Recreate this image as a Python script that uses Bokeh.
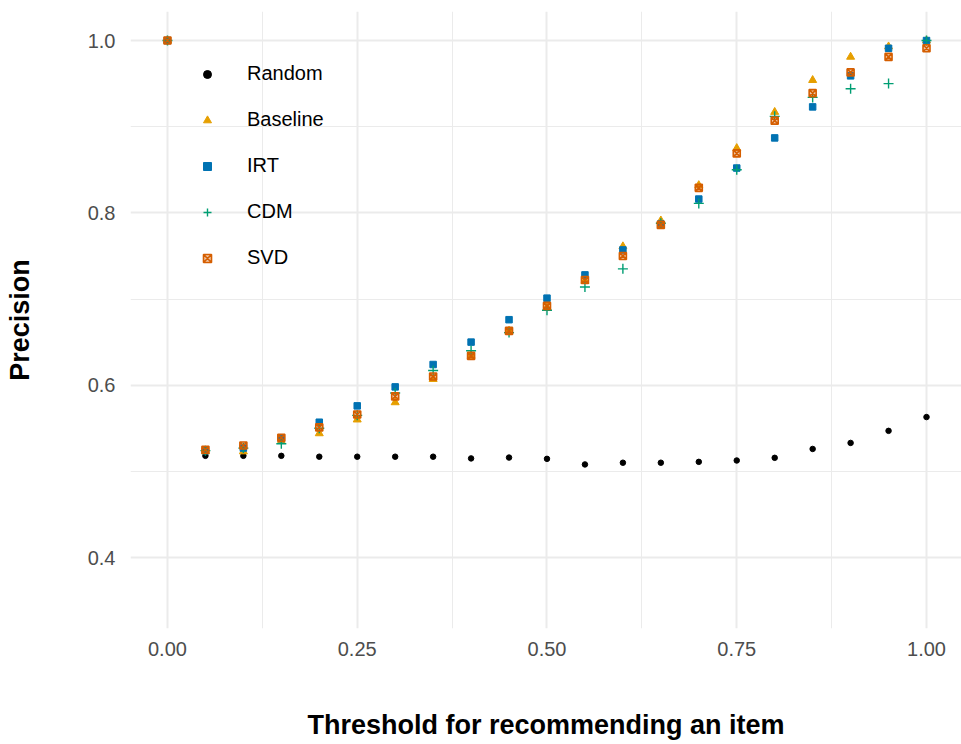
from bokeh.plotting import figure
from bokeh.models import (FixedTicker, NumeralTickFormatter, Legend, LegendItem,
                          Range1d, ColumnDataSource)
from bokeh.embed import file_html
from bokeh.resources import INLINE

# Threshold values and precision per method
thresholds = [0.00, 0.05, 0.10, 0.15, 0.20, 0.25, 0.30, 0.35, 0.40, 0.45, 0.50,
              0.55, 0.60, 0.65, 0.70, 0.75, 0.80, 0.85, 0.90, 0.95, 1.00]
random_prec = [1.000, 0.518, 0.518, 0.518, 0.517, 0.517, 0.517, 0.517, 0.515, 0.516, 0.5145,
               0.508, 0.510, 0.510, 0.511, 0.5126, 0.5157, 0.526, 0.533, 0.547, 0.563]
baseline_prec = [1.000, 0.523, 0.523, 0.535, 0.544, 0.560, 0.580, 0.607, 0.634, 0.663, 0.690,
                 0.721, 0.761, 0.791, 0.832, 0.875, 0.917, 0.954, 0.981, 0.993, 1.000]
irt_prec = [1.000, 0.524, 0.527, 0.538, 0.557, 0.576, 0.598, 0.624, 0.650, 0.676, 0.701,
            0.728, 0.757, 0.787, 0.816, 0.852, 0.887, 0.923, 0.959, 0.991, 1.000]
cdm_prec = [1.000, 0.524, 0.527, 0.532, 0.550, 0.565, 0.591, 0.617, 0.640, 0.661, 0.687,
            0.714, 0.735, 0.788, 0.811, 0.850, 0.912, 0.934, 0.944, 0.950, 1.000]
svd_prec = [1.000, 0.525, 0.530, 0.539, 0.551, 0.566, 0.587, 0.610, 0.634, 0.663, 0.692,
            0.722, 0.750, 0.786, 0.829, 0.869, 0.907, 0.939, 0.963, 0.981, 0.991]

x_ticks = [0.0, 0.25, 0.5, 0.75, 1.0]
x_minor = [0.125, 0.375, 0.625, 0.875]
y_ticks = [0.4, 0.6, 0.8, 1.0]
y_minor = [0.5, 0.7, 0.9]

FONT = "Liberation Sans"

p = figure(width=961, height=744, output_backend="svg", toolbar_location=None,
           x_range=Range1d(-0.0487, 1.0461), y_range=Range1d(0.3176, 1.0337),
           min_border_left=130, min_border_right=0, min_border_top=11,
           min_border_bottom=116)
p.outline_line_color = None
p.background_fill_color = "white"
p.border_fill_color = "white"

# axes
p.xaxis.ticker = FixedTicker(ticks=x_ticks, minor_ticks=x_minor)
p.yaxis.ticker = FixedTicker(ticks=y_ticks, minor_ticks=y_minor)
p.xaxis.formatter = NumeralTickFormatter(format="0.00")
p.yaxis.formatter = NumeralTickFormatter(format="0.0")
for ax in (p.xaxis[0], p.yaxis[0]):
    ax.axis_line_color = None
    ax.major_tick_line_color = None
    ax.minor_tick_line_color = None
    ax.major_label_text_font = FONT
    ax.major_label_text_font_size = "20px"
    ax.major_label_text_color = "#4D4D4D"
    ax.axis_label_text_font = FONT
    ax.axis_label_text_font_size = "27px"
    ax.axis_label_text_font_style = "bold"
    ax.axis_label_text_color = "black"
p.xaxis.axis_label = "Threshold for recommending an item"
p.yaxis.axis_label = "Precision"
p.xaxis.major_label_standoff = 7
p.xaxis.axis_label_standoff = 51
p.yaxis.major_label_standoff = 9
p.yaxis.axis_label_standoff = 50

# grid
for g in (p.xgrid[0], p.ygrid[0]):
    g.grid_line_color = "#EBEBEB"
    g.grid_line_width = 2
    g.minor_grid_line_color = "#EBEBEB"
    g.minor_grid_line_width = 1

src = ColumnDataSource(dict(x=thresholds, r=random_prec, b=baseline_prec,
                            i=irt_prec, c=cdm_prec, s=svd_prec))

r_rand = p.scatter("x", "r", source=src, marker="circle", size=5.5,
                   fill_color="black", line_color="black")
r_base = p.scatter("x", "b", source=src, marker="triangle", size=8,
                   fill_color="#E69F00", line_color="#E69F00")
r_irt = p.scatter("x", "i", source=src, marker="square", size=6.5,
                  fill_color="#0072B2", line_color="#0072B2")
r_cdm = p.scatter("x", "c", source=src, marker="cross", size=10,
                  line_color="#009E73", line_width=1.4)
r_svd = p.scatter("x", "s", source=src, marker="square_x", size=7,
                  fill_color="#D55E00", fill_alpha=0.35,
                  line_color="#D55E00", line_width=1.6)

legend = Legend(items=[
    LegendItem(label="Random", renderers=[r_rand]),
    LegendItem(label="Baseline", renderers=[r_base]),
    LegendItem(label="IRT", renderers=[r_irt]),
    LegendItem(label="CDM", renderers=[r_cdm]),
    LegendItem(label="SVD", renderers=[r_svd]),
], location=(67, 359))
legend.border_line_color = None
legend.background_fill_alpha = 0
legend.padding = 0
legend.margin = 0
legend.glyph_width = 20
legend.glyph_height = 20
legend.label_height = 20
legend.spacing = 23
legend.label_standoff = 30
legend.label_text_font = FONT
legend.label_text_font_size = "20px"
legend.label_text_color = "black"
p.add_layout(legend)

open("out.html", "w").write(file_html(p, INLINE))
